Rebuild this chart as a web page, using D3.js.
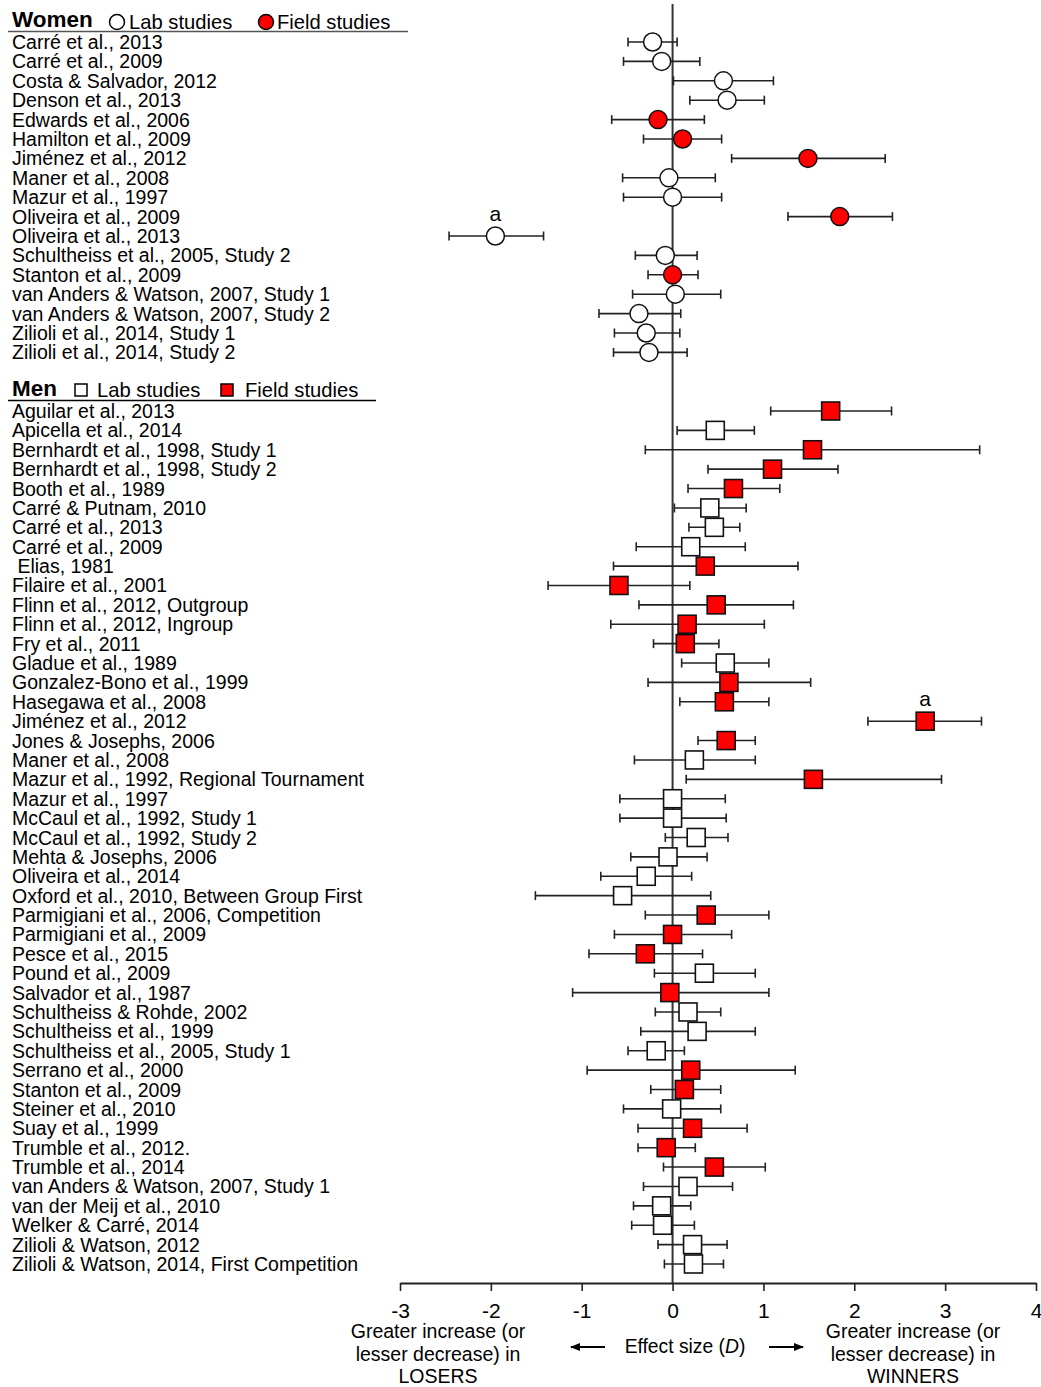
<!DOCTYPE html>
<html>
<head>
<meta charset="utf-8">
<script src="https://cdn.jsdelivr.net/npm/d3@7"></script>
<style>
  html, body { margin: 0; padding: 0; background: #fff; }
  svg text { font-family: "Liberation Sans", Arial, Helvetica, sans-serif; fill: #000; white-space: pre; }
</style>
</head>
<body>
<svg id="chart" width="1041" height="1387"></svg>
<script>
// ---------- DATA ----------
const womenStudies = [
  "Carré et al., 2013", "Carré et al., 2009", "Costa & Salvador, 2012", "Denson et al., 2013",
  "Edwards et al., 2006", "Hamilton et al., 2009", "Jiménez et al., 2012", "Maner et al., 2008",
  "Mazur et al., 1997", "Oliveira et al., 2009", "Oliveira et al., 2013", "Schultheiss et al., 2005, Study 2",
  "Stanton et al., 2009", "van Anders & Watson, 2007, Study 1", "van Anders & Watson, 2007, Study 2",
  "Zilioli et al., 2014, Study 1", "Zilioli et al., 2014, Study 2"
];
const womenType = ["lab","lab","lab","lab","field","field","field","lab","lab","field","lab","lab","field","lab","lab","lab","lab"];
const womenD  = [-0.22, -0.12, 0.56, 0.60, -0.16, 0.11, 1.49, -0.04, 0.00, 1.84, -1.95, -0.08, 0.00, 0.03, -0.37, -0.29, -0.26];
const womenLo = [-0.49, -0.54, 0.01, 0.19, -0.67, -0.32, 0.65, -0.55, -0.54, 1.27, -2.46, -0.41, -0.27, -0.44, -0.81, -0.64, -0.65];
const womenHi = [0.05, 0.30, 1.11, 1.01, 0.35, 0.54, 2.34, 0.47, 0.54, 2.42, -1.42, 0.27, 0.28, 0.53, 0.09, 0.08, 0.16];
const womenNote = ["","","","","","","","","","","a","","","","","",""];

const menStudies = [
  "Aguilar et al., 2013", "Apicella et al., 2014", "Bernhardt et al., 1998, Study 1", "Bernhardt et al., 1998, Study 2",
  "Booth et al., 1989", "Carré & Putnam, 2010", "Carré et al., 2013", "Carré et al., 2009", " Elias, 1981",
  "Filaire et al., 2001", "Flinn et al., 2012, Outgroup", "Flinn et al., 2012, Ingroup", "Fry et al., 2011",
  "Gladue et al., 1989", "Gonzalez-Bono et al., 1999", "Hasegawa et al., 2008", "Jiménez et al., 2012",
  "Jones & Josephs, 2006", "Maner et al., 2008", "Mazur et al., 1992, Regional Tournament", "Mazur et al., 1997",
  "McCaul et al., 1992, Study 1", "McCaul et al., 1992, Study 2", "Mehta & Josephs, 2006", "Oliveira et al., 2014",
  "Oxford et al., 2010, Between Group First", "Parmigiani et al., 2006, Competition", "Parmigiani et al., 2009",
  "Pesce et al., 2015", "Pound et al., 2009", "Salvador et al., 1987", "Schultheiss & Rohde, 2002",
  "Schultheiss et al., 1999", "Schultheiss et al., 2005, Study 1", "Serrano et al., 2000", "Stanton et al., 2009",
  "Steiner et al., 2010", "Suay et al., 1999", "Trumble et al., 2012.", "Trumble et al., 2014",
  "van Anders & Watson, 2007, Study 1", "van der Meij et al., 2010", "Welker & Carré, 2014",
  "Zilioli & Watson, 2012", "Zilioli & Watson, 2014, First Competition"
];
const menType = ["field","lab","field","field","field","lab","lab","lab","field",
  "field","field","field","field","lab","field","field","field",
  "field","lab","field","lab","lab","lab","lab","lab",
  "lab","field","field","field","lab","field","lab",
  "lab","lab","field","field","lab","field","field","field",
  "lab","lab","lab","lab","lab"];
const menD  = [1.74, 0.47, 1.54, 1.10, 0.67, 0.41, 0.46, 0.20, 0.36,
  -0.59, 0.48, 0.16, 0.14, 0.58, 0.62, 0.57, 2.78,
  0.59, 0.24, 1.55, 0.00, 0.00, 0.26, -0.05, -0.29,
  -0.55, 0.37, 0.00, -0.30, 0.35, -0.03, 0.17,
  0.27, -0.18, 0.20, 0.13, -0.01, 0.22, -0.07, 0.46,
  0.17, -0.12, -0.11, 0.22, 0.23];
const menLo = [1.08, 0.05, -0.30, 0.39, 0.17, 0.02, 0.18, -0.40, -0.65,
  -1.37, -0.37, -0.68, -0.21, 0.10, -0.27, 0.08, 2.15,
  0.28, -0.42, 0.15, -0.58, -0.58, -0.08, -0.46, -0.79,
  -1.51, -0.30, -0.64, -0.92, -0.20, -1.10, -0.19,
  -0.35, -0.49, -0.94, -0.24, -0.54, -0.38, -0.38, -0.10,
  -0.32, -0.43, -0.45, -0.16, -0.09];
const menHi = [2.41, 0.90, 3.38, 1.82, 1.18, 0.81, 0.74, 0.80, 1.38,
  0.19, 1.33, 1.01, 0.51, 1.06, 1.52, 1.06, 3.40,
  0.91, 0.91, 2.96, 0.58, 0.59, 0.61, 0.38, 0.21,
  0.42, 1.06, 0.65, 0.33, 0.91, 1.06, 0.53,
  0.91, 0.13, 1.35, 0.53, 0.53, 0.82, 0.25, 1.02,
  0.66, 0.20, 0.24, 0.60, 0.56];
const menNote = menStudies.map((d, i) => i === 16 ? "a" : "");

const xTicks = [-3, -2, -1, 0, 1, 2, 3, 4];
const legendLabels = ["Lab studies", "Field studies"];
const groupTitles = ["Women", "Men"];
const axisLeftText = ["Greater increase (or", "lesser decrease) in", "LOSERS"];
const axisRightText = ["Greater increase (or", "lesser decrease) in", "WINNERS"];

// ---------- DRAW ----------
const svg = d3.select("#chart");
const x = d3.scaleLinear().domain([-3, 4]).range([400, 1036]);
const yW = d3.scalePoint().domain(womenStudies).range([42, 352.4]);
const yM = d3.scalePoint().domain(menStudies).range([411, 1264]);
const axisY = 1283;
const RED = "#ff0000";
const LABEL_FS = 19.5;

// zero line
svg.append("line")
  .attr("x1", x(0)).attr("x2", x(0))
  .attr("y1", 4).attr("y2", axisY)
  .attr("stroke", "#333").attr("stroke-width", 2);

function group(studies, type, D, lo, hi, note, y, shape) {
  const rows = studies.map((s, i) => ({ s, t: type[i], d: D[i], lo: lo[i], hi: hi[i], n: note[i] }));
  // labels
  svg.append("g").selectAll("text").data(rows).join("text")
    .attr("x", 12).attr("y", r => y(r.s) + 7)
    .attr("font-size", LABEL_FS).text(r => r.s);
  const g = svg.append("g");
  // error bars
  g.selectAll("line.ci").data(rows).join("line").attr("class", "ci")
    .attr("x1", r => x(r.lo)).attr("x2", r => x(r.hi))
    .attr("y1", r => y(r.s)).attr("y2", r => y(r.s))
    .attr("stroke", "#222").attr("stroke-width", 1.6);
  ["lo", "hi"].forEach(k => {
    g.selectAll("line.cap" + k).data(rows).join("line").attr("class", "cap" + k)
      .attr("x1", r => x(r[k])).attr("x2", r => x(r[k]))
      .attr("y1", r => y(r.s) - 4.5).attr("y2", r => y(r.s) + 4.5)
      .attr("stroke", "#222").attr("stroke-width", 1.6);
  });
  // markers
  if (shape === "circle") {
    g.selectAll("circle").data(rows).join("circle")
      .attr("cx", r => x(r.d)).attr("cy", r => y(r.s)).attr("r", 9)
      .attr("fill", r => r.t === "field" ? RED : "#fff")
      .attr("stroke", "#111").attr("stroke-width", 1.5);
  } else {
    g.selectAll("rect").data(rows).join("rect")
      .attr("x", r => x(r.d) - 9).attr("y", r => y(r.s) - 9)
      .attr("width", 18).attr("height", 18)
      .attr("fill", r => r.t === "field" ? RED : "#fff")
      .attr("stroke", "#111").attr("stroke-width", 1.6);
  }
  // notes
  g.selectAll("text.note").data(rows.filter(r => r.n)).join("text").attr("class", "note")
    .attr("x", r => x(r.d)).attr("y", r => y(r.s) - 15)
    .attr("text-anchor", "middle").attr("font-size", 21).text(r => r.n);
}

group(womenStudies, womenType, womenD, womenLo, womenHi, womenNote, yW, "circle");
group(menStudies, menType, menD, menLo, menHi, menNote, yM, "square");

// headers + legends
// Women
svg.append("text").attr("x", 12).attr("y", 27).attr("font-size", 22.5).attr("font-weight", "bold").text(groupTitles[0]);
svg.append("circle").attr("cx", 117).attr("cy", 22).attr("r", 7.5).attr("fill", "#fff").attr("stroke", "#000").attr("stroke-width", 1.5);
svg.append("text").attr("x", 129).attr("y", 29).attr("font-size", 20.2).text(legendLabels[0]);
svg.append("circle").attr("cx", 266).attr("cy", 22).attr("r", 7.5).attr("fill", RED).attr("stroke", "#000").attr("stroke-width", 1.5);
svg.append("text").attr("x", 277).attr("y", 29).attr("font-size", 20.2).text(legendLabels[1]);
svg.append("line").attr("x1", 8).attr("x2", 408).attr("y1", 31.5).attr("y2", 31.5).attr("stroke", "#555").attr("stroke-width", 1.3);
// Men
svg.append("text").attr("x", 12).attr("y", 396).attr("font-size", 22.5).attr("font-weight", "bold").text(groupTitles[1]);
svg.append("rect").attr("x", 75).attr("y", 384).attr("width", 12).attr("height", 12).attr("fill", "#fff").attr("stroke", "#000").attr("stroke-width", 1.5);
svg.append("text").attr("x", 97).attr("y", 397).attr("font-size", 20.2).text(legendLabels[0]);
svg.append("rect").attr("x", 221).attr("y", 384).attr("width", 12).attr("height", 12).attr("fill", RED).attr("stroke", "#000").attr("stroke-width", 1.5);
svg.append("text").attr("x", 245).attr("y", 397).attr("font-size", 20.2).text(legendLabels[1]);
svg.append("line").attr("x1", 8).attr("x2", 376).attr("y1", 400.5).attr("y2", 400.5).attr("stroke", "#000").attr("stroke-width", 1.3);

// x axis
const axis = d3.axisBottom(x).tickValues(xTicks).tickSize(8).tickSizeOuter(0).tickFormat(d => String(d));
const ax = svg.append("g").attr("transform", `translate(0,${axisY})`).call(axis);
ax.select(".domain").attr("stroke", "#222").attr("stroke-width", 1.8);
ax.selectAll(".tick line").attr("stroke", "#222").attr("stroke-width", 1.6);
ax.selectAll(".tick text").attr("font-size", 21).attr("y", 20).attr("dy", "0.71em")
  .attr("font-family", "'Liberation Sans', Arial, sans-serif").attr("fill", "#000");

// axis descriptions
axisLeftText.forEach((t, i) => {
  svg.append("text").attr("x", 438).attr("y", 1338 + i * 22.5).attr("text-anchor", "middle").attr("font-size", 19.5).text(t);
});
axisRightText.forEach((t, i) => {
  svg.append("text").attr("x", 913).attr("y", 1338 + i * 22.5).attr("text-anchor", "middle").attr("font-size", 19.5).text(t);
});
const mid = svg.append("text").attr("x", 685).attr("y", 1353).attr("text-anchor", "middle").attr("font-size", 19.3);
mid.append("tspan").text("Effect size (");
mid.append("tspan").attr("font-style", "italic").text("D");
mid.append("tspan").text(")");

// arrows
const defs = svg.append("defs");
defs.append("marker").attr("id", "ah").attr("viewBox", "0 0 10 10").attr("refX", 9).attr("refY", 5)
  .attr("markerWidth", 5).attr("markerHeight", 5).attr("orient", "auto-start-reverse")
  .append("path").attr("d", "M0,1 L10,5 L0,9 Z").attr("fill", "#000");
svg.append("line").attr("x1", 605).attr("x2", 571).attr("y1", 1347).attr("y2", 1347)
  .attr("stroke", "#000").attr("stroke-width", 2).attr("marker-end", "url(#ah)");
svg.append("line").attr("x1", 769).attr("x2", 803).attr("y1", 1347).attr("y2", 1347)
  .attr("stroke", "#000").attr("stroke-width", 2).attr("marker-end", "url(#ah)");
</script>
</body>
</html>
